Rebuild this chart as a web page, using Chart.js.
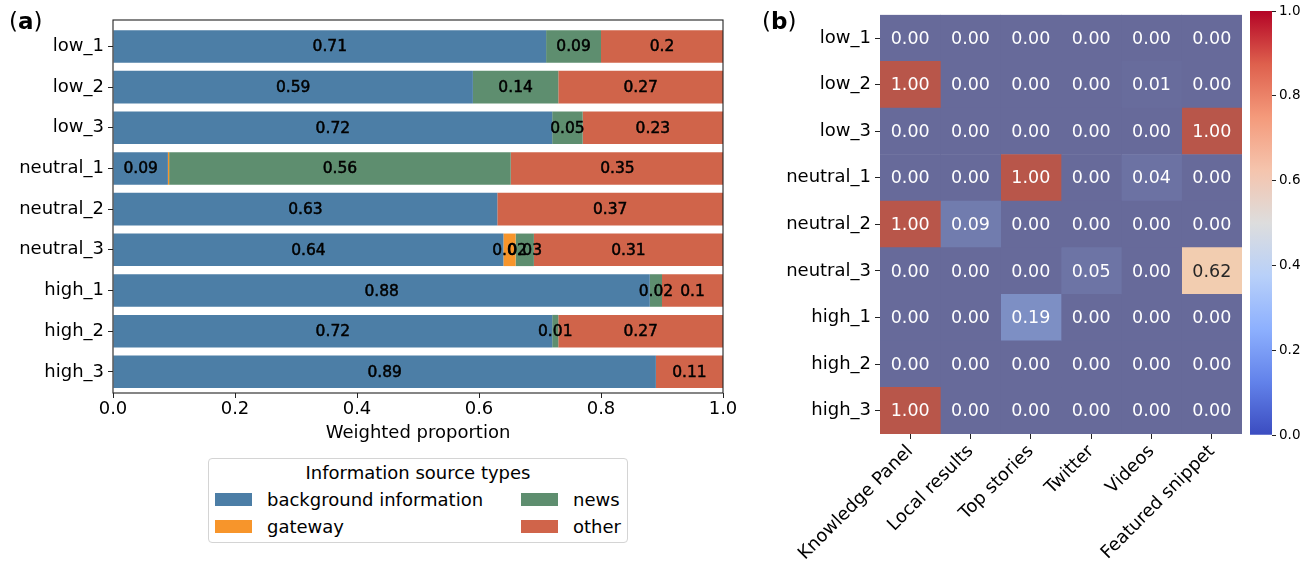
<!DOCTYPE html>
<html>
<head>
<meta charset="utf-8">
<script src="https://cdn.jsdelivr.net/npm/chart.js@4.4.1/dist/chart.umd.min.js"></script>
<style>
body { margin: 0; background: #fff; font-family: "DejaVu Sans", sans-serif; color: #000; }
#wrap { position: relative; width: 1314px; height: 566px; overflow: hidden; }
canvas { position: absolute; top: 0; }
.panel { position: absolute; top: 7px; font-size: 23px; line-height: 28px; }
#legend { position: absolute; left: 208px; top: 458px; width: 418px; height: 83px;
  border: 1px solid #d4d4d4; border-radius: 4px; font-size: 18px; }
#legend .ltitle { text-align: center; line-height: 20px; margin-top: 4px; }
#legend .litems { display: grid; grid-template-columns: 306px auto; grid-template-rows: 27px 27px;
  grid-auto-flow: column; margin-left: 6px; margin-top: 3px; }
#legend .item { display: flex; align-items: center; line-height: 20px; }
#legend .sw { width: 37px; height: 13px; margin-right: 15px; }
</style>
</head>
<body>
<div id="wrap">
  <canvas id="bars" width="740" height="450" style="left:0"></canvas>
  <canvas id="heat" width="490" height="566" style="left:760px"></canvas>
  <canvas id="cbar" width="74" height="566" style="left:1240px"></canvas>
  <div class="panel" style="left:9px">(<b>a</b>)</div>
  <div class="panel" style="left:762px">(<b>b</b>)</div>
  <div id="legend"><div class="ltitle">Information source types</div><div class="litems"></div></div>
</div>
<script>
// ---- panel (a): weighted proportion of source types ----
const rows = ['low_1', 'low_2', 'low_3', 'neutral_1', 'neutral_2', 'neutral_3', 'high_1', 'high_2', 'high_3'];
const sourceTypes = ['background information', 'gateway', 'news', 'other'];
const background = [0.71, 0.59, 0.72, 0.09, 0.63, 0.64, 0.88, 0.72, 0.89];
const gateway    = [0,    0,    0,    0.002, 0,   0.02, 0,    0,    0];
const news       = [0.09, 0.14, 0.05, 0.56, 0,    0.03, 0.02, 0.01, 0];
const other      = [0.20, 0.27, 0.23, 0.35, 0.37, 0.31, 0.10, 0.27, 0.11];

// ---- panel (b): SERP features heatmap ----
const features = ['Knowledge Panel', 'Local results', 'Top stories', 'Twitter', 'Videos', 'Featured snippet'];
const heatValues = [
  [0.00, 0.00, 0.00, 0.00, 0.00, 0.00],
  [1.00, 0.00, 0.00, 0.00, 0.01, 0.00],
  [0.00, 0.00, 0.00, 0.00, 0.00, 1.00],
  [0.00, 0.00, 1.00, 0.00, 0.04, 0.00],
  [1.00, 0.09, 0.00, 0.00, 0.00, 0.00],
  [0.00, 0.00, 0.00, 0.05, 0.00, 0.62],
  [0.00, 0.00, 0.19, 0.00, 0.00, 0.00],
  [0.00, 0.00, 0.00, 0.00, 0.00, 0.00],
  [1.00, 0.00, 0.00, 0.00, 0.00, 0.00]
];
const colorbarRange = [0, 1];

Chart.defaults.font.family = '"DejaVu Sans", sans-serif';
Chart.defaults.color = '#000';
Chart.defaults.animation = false;

const seriesValues = [background, gateway, news, other];
const barColors = ['#4c7ea6', '#f7952b', '#5e8e6f', '#d0644a'];

// outline round the axes, like matplotlib spines
const frame = {
  id: 'frame',
  afterDraw(chart) {
    const { ctx, chartArea: a } = chart;
    ctx.save();
    ctx.strokeStyle = '#222';
    ctx.lineWidth = 1.1;
    ctx.strokeRect(a.left, a.top, a.right - a.left, a.bottom - a.top);
    ctx.restore();
  }
};

const barLabels = {
  id: 'barLabels',
  afterDatasetsDraw(chart) {
    const ctx = chart.ctx;
    ctx.save();
    ctx.font = '15.5px "DejaVu Sans"';
    ctx.fillStyle = '#000';
    ctx.strokeStyle = '#000';
    ctx.lineWidth = 0.5;
    ctx.textAlign = 'center';
    ctx.textBaseline = 'middle';
    chart.data.datasets.forEach((ds, k) => {
      chart.getDatasetMeta(k).data.forEach((el, i) => {
        const v = seriesValues[k][i];
        if (v < 0.01) return;
        const t = String(Math.round(v * 100) / 100);
        const x = (el.x + el.base) / 2;
        // the original labels look doubled / heavier
        ctx.fillText(t, x, el.y + 1);
        ctx.strokeText(t, x, el.y + 1);
      });
    });
    ctx.restore();
  }
};

const barChart = new Chart(document.getElementById('bars'), {
  type: 'bar',
  data: {
    datasets: sourceTypes.map((name, k) => ({
      label: name,
      data: seriesValues[k].map((v, i) => ({ x: v, y: i })),
      backgroundColor: barColors[k],
      barPercentage: 0.8,
      categoryPercentage: 1
    }))
  },
  options: {
    indexAxis: 'y',
    responsive: false,
    layout: { padding: { top: 20, right: 17, left: 0, bottom: 0 } },
    plugins: { legend: { display: false }, tooltip: { enabled: false } },
    scales: {
      x: {
        type: 'linear', min: 0, max: 1, stacked: true,
        ticks: { stepSize: 0.2, callback: v => v.toFixed(1), font: { size: 18 }, padding: 1 },
        grid: { drawOnChartArea: false, tickLength: 5, tickColor: '#222' },
        border: { display: false },
        title: { display: true, text: 'Weighted proportion', font: { size: 18 }, padding: { top: 0, bottom: 6 } },
        afterFit: s => { s.height = 57; }
      },
      y: {
        type: 'linear', min: -0.65, max: 8.52, reverse: true, stacked: true, offset: false,
        afterBuildTicks: s => { s.ticks = rows.map((r, i) => ({ value: i })); },
        ticks: { callback: (v, i) => rows[i], font: { size: 18 }, padding: 4, autoSkip: false },
        grid: { drawOnChartArea: false, offset: false, tickLength: 5, tickColor: '#222' },
        border: { display: false },
        afterFit: s => { s.width = 113; }
      }
    }
  },
  plugins: [frame, barLabels]
});

// html legend, two columns like the original
const litems = document.querySelector('#legend .litems');
barChart.data.datasets.forEach(ds => {
  const item = document.createElement('div');
  item.className = 'item';
  item.innerHTML = '<span class="sw" style="background:' + ds.backgroundColor + '"></span><span>' + ds.label + '</span>';
  litems.appendChild(item);
});

// cell colours as they appear in the figure (muted coolwarm)
const cellStops = [[0, [103, 106, 154]], [0.19, [125, 143, 196]], [0.62, [242, 205, 176]], [1, [184, 86, 74]]];
function cellRGB(v) {
  for (let s = 1; s < cellStops.length; s++) {
    if (v <= cellStops[s][0]) {
      const [v0, c0] = cellStops[s - 1];
      const [v1, c1] = cellStops[s];
      const t = (v - v0) / (v1 - v0);
      return c0.map((c, n) => Math.round(c + (c1[n] - c) * t));
    }
  }
  return cellStops[cellStops.length - 1][1];
}
function luminance(rgb) {
  const lin = rgb.map(c => { c /= 255; return c <= 0.03928 ? c / 12.92 : Math.pow((c + 0.055) / 1.055, 2.4); });
  return 0.2126 * lin[0] + 0.7152 * lin[1] + 0.0722 * lin[2];
}

const cellLabels = {
  id: 'cellLabels',
  afterDatasetsDraw(chart) {
    const ctx = chart.ctx;
    ctx.save();
    ctx.font = '17.5px "DejaVu Sans"';
    ctx.textAlign = 'center';
    ctx.textBaseline = 'middle';
    chart.data.datasets.forEach((ds, j) => {
      chart.getDatasetMeta(j).data.forEach((el, i) => {
        const v = heatValues[i][j];
        ctx.fillStyle = luminance(cellRGB(v)) > 0.408 ? '#262626' : '#fff';
        ctx.fillText(v.toFixed(2), (el.x + el.base) / 2, el.y + 1);
      });
    });
    ctx.restore();
  }
};

new Chart(document.getElementById('heat'), {
  type: 'bar',
  data: {
    labels: rows,
    datasets: features.map((f, j) => ({
      label: f,
      data: rows.map(() => 1),
      backgroundColor: c => 'rgb(' + cellRGB(heatValues[c.dataIndex][j]).join(',') + ')',
      barPercentage: 1,
      categoryPercentage: 1
    }))
  },
  options: {
    indexAxis: 'y',
    responsive: false,
    layout: { padding: { top: 11, right: 8, left: 0, bottom: 0 } },
    plugins: { legend: { display: false }, tooltip: { enabled: false } },
    scales: {
      x: {
        type: 'linear', min: 0, max: features.length, stacked: true,
        afterBuildTicks: s => { s.ticks = features.map((f, j) => ({ value: j + 0.5 })); },
        ticks: { callback: (v, i) => features[i], minRotation: 45, maxRotation: 45, autoSkip: false,
                 font: { size: 18 }, padding: 2 },
        grid: { drawOnChartArea: false, tickLength: 5, tickColor: '#222' },
        border: { display: false },
        afterFit: s => { s.height = 132; }
      },
      y: {
        stacked: true,
        ticks: { font: { size: 18 }, padding: 4, autoSkip: false },
        grid: { drawOnChartArea: false, offset: false, tickLength: 5, tickColor: '#222' },
        border: { display: false },
        afterFit: s => { s.width = 120; }
      }
    }
  },
  plugins: [cellLabels]
});

// colorbar (coolwarm)
const coolwarm = [
  [0, '#3b4cc0'], [0.125, '#6282ea'], [0.25, '#8db0fe'], [0.375, '#b8d0f9'], [0.5, '#dddddd'],
  [0.625, '#f5c4ad'], [0.75, '#f49a7b'], [0.875, '#de604d'], [1, '#b40426']
];
new Chart(document.getElementById('cbar'), {
  type: 'bar',
  data: {
    labels: [''],
    datasets: [{
      data: [colorbarRange],
      backgroundColor: c => {
        const a = c.chart.chartArea;
        if (!a) return '#ddd';
        const g = c.chart.ctx.createLinearGradient(0, a.bottom, 0, a.top);
        coolwarm.forEach(([p, col]) => g.addColorStop(p, col));
        return g;
      },
      barPercentage: 1,
      categoryPercentage: 1
    }]
  },
  options: {
    responsive: false,
    layout: { padding: { top: 11, left: 10, right: 0, bottom: 131 } },
    plugins: { legend: { display: false }, tooltip: { enabled: false } },
    scales: {
      x: { display: false },
      y: {
        position: 'right', min: colorbarRange[0], max: colorbarRange[1],
        ticks: { stepSize: 0.2, callback: v => v.toFixed(1), font: { size: 13.5 }, padding: 3 },
        grid: { drawOnChartArea: false, tickLength: 4, tickColor: '#222' },
        border: { display: false },
        afterFit: s => { s.width = 42; }
      }
    }
  }
});
</script>
</body>
</html>
